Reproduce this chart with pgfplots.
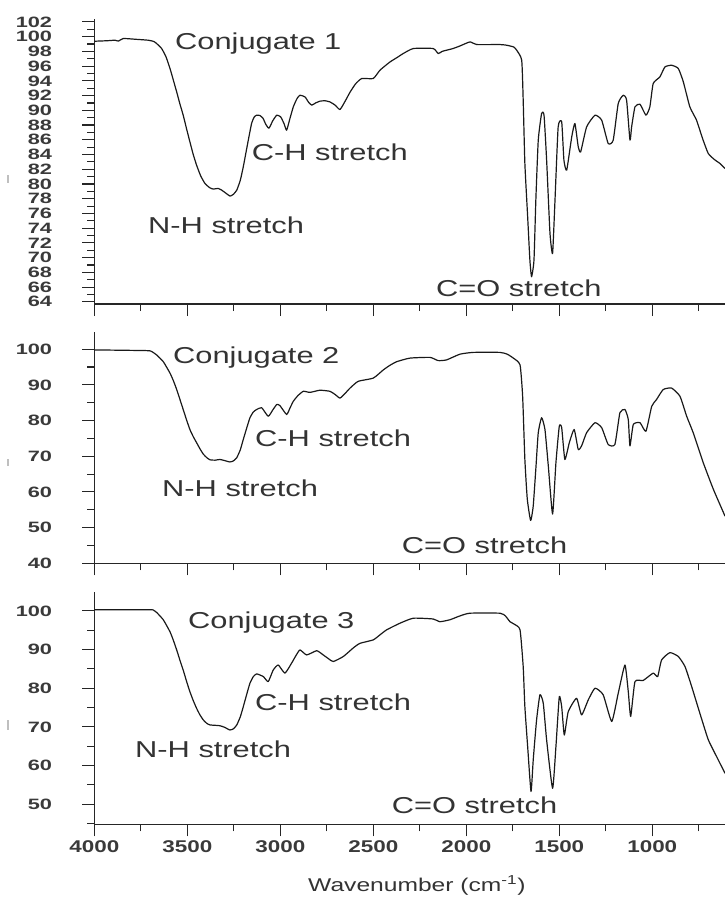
\documentclass[border=0pt]{standalone}
\usepackage{pgfplots}
\pgfplotsset{compat=1.18}
\usepackage{fontspec}
\setmainfont{Liberation Sans}
\newfontfamily\annfont[FakeStretch=1.34]{Liberation Sans}
\newfontfamily\xtfont[FakeStretch=1.32]{Liberation Sans}
\newfontfamily\ytfont[FakeStretch=1.45]{Liberation Sans}
\newfontfamily\xlabfont[FakeStretch=1.33]{Liberation Sans}
\definecolor{txt}{HTML}{333333}
\definecolor{tk}{HTML}{3A3A3A}
\begin{document}
\begin{tikzpicture}
\useasboundingbox (0pt,0pt) rectangle (725pt,-897pt);
\pgfplotsset{
  irstyle/.style={
    scale only axis, width=630.7pt,
    xmin=609, xmax=4000, x dir=reverse,
    axis x line=bottom, axis y line=left,
    axis line style={-, line width=1.2pt, color=black!85},
    tick align=outside, major tick length=12pt, minor tick length=7pt,
    tick style={line width=1.1pt, color=black!85},
    xtick={1000,1500,2000,2500,3000,3500,4000},
    minor xtick={750,1250,1750,2250,2750,3250,3750},
    /pgf/number format/assume math mode=true,
    /pgf/number format/1000 sep={},
    yticklabel style={font=\ytfont\bfseries\fontsize{15}{15}\selectfont, text=tk, anchor=east, inner sep=0pt, xshift=-30pt},
    xticklabel style={font=\xtfont\bfseries\fontsize{17}{17}\selectfont, text=tk, anchor=north, inner sep=0pt, yshift=-4pt},
  },
  curve/.style={black!90, line width=1.2pt, line join=round, mark=none, smooth, tension=0.3},
}
% Panel 1
\begin{axis}[irstyle, at={(94.3pt,-304pt)}, anchor=south west, height=285pt,
  ymin=63.7, ymax=102.4,
  ytick={64,66,...,102}, minor ytick={65,67,...,101},
  xticklabels={}]
\addplot[curve] coordinates {
(4000,99.38) (3930,99.45) (3889,99.52) (3870,99.40) (3844,99.75) (3780,99.65) (3710,99.52) (3680,99.35) (3665,99.07) (3638,98.39)
(3615,97.3) (3593,95.68) (3575,94.1) (3557,92.50) (3540,90.9) (3522,89.34) (3504,87.5) (3486,85.72) (3468,84.0) (3450,82.55) (3428,81.1) (3405,80.07)
(3380,79.5) (3360,79.30) (3335,79.4) (3315,79.16) (3290,78.7) (3270,78.35) (3252,78.6) (3234,79.16) (3215,80.5) (3199,82.32) (3185,84.2) (3172,85.95)
(3154,88.25) (3140,89.1) (3127,89.34) (3110,89.3) (3093,88.93) (3078,88.1) (3061,87.57) (3040,88.6) (3019,89.34) (2998,89.11)
(2980,88.2) (2966,87.30) (2948,88.9) (2930,90.47) (2910,91.6) (2894,92.05) (2867,91.82) (2848,91.1) (2831,90.70) (2810,91.0) (2787,91.24)
(2760,91.3) (2733,91.14) (2705,90.7) (2679,90.11) (2650,91.3) (2625,92.46) (2595,93.6) (2562,94.32) (2500,94.32) (2464,95.45)
(2410,96.57) (2370,97.2) (2339,97.71) (2285,98.39) (2178,98.39) (2151,97.71) (2130,98.0) (2106,98.16) (2070,98.4)
(2034,98.74) (1980,99.29) (1944,98.93) (1819,98.93) (1783,98.84) (1745,98.6) (1729,98.16)
(1702,96.80) (1694,91.38) (1685,82.78) (1670,75.54) (1658,69.66) (1649,67.40)
(1636,69.66) (1626,77.80) (1613,85.95) (1595,89.57) (1582,89.34) (1568,83.23)
(1550,73.33) (1536,70.57) (1523,77.80) (1506,87.75) (1487,88.43) (1475,83.23)
(1460,81.88) (1433,86.40) (1416,88.21) (1398,85.04) (1385,84.36) (1353,87.75)
(1308,89.34) (1272,88.66) (1237,85.50) (1210,85.95) (1183,90.93) (1156,92.05)
(1138,91.37) (1120,85.95) (1111,87.75) (1093,90.47) (1066,90.83) (1034,89.34)
(1013,90.47) (995,93.64) (959,94.54) (932,95.89) (896,96.12) (860,95.68)
(833,93.86) (798,90.47) (762,88.66) (730,86.2) (699,84.14) (665,83.3) (636,82.78) (609,82.11)
};
\end{axis}
% Panel 2
\begin{axis}[irstyle, at={(94.3pt,-563.3pt)}, anchor=south west, height=231.6pt,
  ymin=40, ymax=104.9,
  ytick={40,50,...,100}, minor ytick={45,55,...,105},
  xticklabels={}]
\addplot[curve] coordinates {
(4000,99.8) (3718,99.6) (3690,99.3) (3665,98.4) (3629,96.5) (3593,93.3) (3575,91.2) (3557,88.7) (3540,86.0)
(3522,83.1) (3504,80.2) (3486,77.5) (3468,75.5) (3450,73.8) (3432,72.1) (3414,70.6) (3395,69.6) (3378,69.0) (3350,68.9) (3325,69.1)
(3300,68.8) (3271,68.4) (3252,68.7) (3234,69.6) (3215,71.8) (3199,74.7) (3180,78.0) (3163,80.8) (3145,82.4) (3127,83.1) (3100,83.6)
(3065,81.2) (3040,83.0) (3019,84.5) (3002,84.2) (2966,81.7) (2948,83.5) (2930,85.4) (2905,87.0) (2876,88.2)
(2840,87.9) (2787,88.5) (2733,88.2) (2705,87.3) (2679,86.3) (2650,87.7) (2625,89.1) (2581,91.0)
(2500,91.9) (2446,94.2) (2410,95.5) (2374,96.5) (2303,97.5) (2195,97.7) (2151,96.8)
(2106,97.0) (2034,98.6) (1962,99.1) (1819,99.1) (1780,98.6) (1747,97.5) (1711,95.6)
(1697,86.8) (1685,69.1) (1672,58.0) (1654,52.0) (1640,56.1) (1625,67.3)
(1613,76.6) (1595,80.8) (1577,77.5) (1559,67.3) (1536,53.8) (1518,68.2)
(1500,78.4) (1487,78.0) (1470,69.1) (1446,73.8) (1420,77.5) (1398,71.9)
(1380,72.9) (1353,76.6) (1308,79.4) (1272,78.0) (1237,73.3) (1201,73.3)
(1174,82.2) (1147,83.1) (1129,80.3) (1120,72.9) (1102,78.9) (1066,79.4)
(1034,77.0) (1003,84.0) (977,85.9) (941,88.7) (896,89.1) (851,86.8)
(815,81.2) (780,76.6) (726,68.2) (672,60.8) (618,54.3) (609,53.2)
};
\end{axis}
% Panel 3
\begin{axis}[irstyle, at={(94.3pt,-824.3pt)}, anchor=south west, height=232pt,
  ymin=44.8, ymax=104.8,
  ytick={50,60,...,100}, minor ytick={45,55,...,105}]
\addplot[curve] coordinates {
(4000,100.3) (3701,100.3) (3680,100.1) (3665,99.6) (3629,97.7) (3593,94.6) (3575,92.4) (3557,89.9) (3540,87.3)
(3522,84.7) (3504,81.8) (3486,79.1) (3468,76.8) (3450,74.8) (3432,73.1) (3414,71.8) (3395,70.9) (3378,70.5) (3350,70.4) (3325,70.3)
(3300,69.9) (3271,69.2) (3252,69.5) (3234,70.5) (3215,72.6) (3199,75.2) (3180,78.5) (3163,81.3) (3145,83.0) (3127,83.7) (3091,83.0)
(3065,81.7) (3038,84.7) (3011,86.0) (2975,83.9) (2939,86.5) (2915,88.5) (2894,89.9)
(2858,88.6) (2804,89.7) (2769,88.6) (2740,87.6) (2715,86.9) (2661,88.2) (2608,90.4)
(2572,91.6) (2500,92.5) (2464,93.8) (2428,95.1) (2357,96.8) (2285,98.1)
(2178,97.9) (2142,97.2) (2088,97.7) (2034,98.7) (1980,99.4) (1819,99.4) (1790,98.7)
(1765,97.2) (1740,96.5) (1711,95.1) (1694,85.6) (1685,75.2) (1670,64.9) (1652,53.3)
(1640,61.5) (1622,71.8) (1604,78.3) (1586,76.1) (1568,66.6) (1536,54.1)
(1518,64.9) (1500,77.8) (1487,75.2) (1473,67.9) (1452,73.9) (1407,77.4)
(1380,73.1) (1344,77.0) (1308,80.0) (1264,78.3) (1218,71.4) (1183,78.7)
(1147,86.0) (1129,79.1) (1116,72.7) (1093,81.7) (1049,82.0) (995,83.9)
(971,83.0) (950,87.3) (905,89.2) (860,88.2) (824,85.6) (788,80.4)
(744,73.5) (699,66.7) (654,62.3) (609,58.0)
};
\end{axis}
% annotations
\begin{scope}[every node/.style={anchor=base west, inner sep=0pt, text=txt, font=\annfont\fontsize{23}{23}\selectfont}]
\node at (175pt,-49pt) {Conjugate 1};
\node at (251.7pt,-160pt) {C-H stretch};
\node at (148pt,-233.3pt) {N-H stretch};
\node at (436pt,-296pt) {C=O stretch};
\node at (173pt,-363.3pt) {Conjugate 2};
\node at (255pt,-446.7pt) {C-H stretch};
\node at (162pt,-496.7pt) {N-H stretch};
\node at (401.7pt,-553.3pt) {C=O stretch};
\node at (188pt,-628.3pt) {Conjugate 3};
\node at (255pt,-710pt) {C-H stretch};
\node at (135pt,-757.3pt) {N-H stretch};
\node at (391.7pt,-813.3pt) {C=O stretch};
\end{scope}
\node[anchor=base west, inner sep=0pt, text=txt, font=\xlabfont\fontsize{18.5}{19}\selectfont] at (308pt,-891pt) {Wavenumber (cm\textsuperscript{-1})};
\fill[black!25] (6.5pt,-175pt) rectangle (8.5pt,-183pt);
\fill[black!25] (6.5pt,-459pt) rectangle (8.5pt,-466pt);
\fill[black!25] (6.5pt,-720pt) rectangle (8.5pt,-730pt);
\end{tikzpicture}
\end{document}
